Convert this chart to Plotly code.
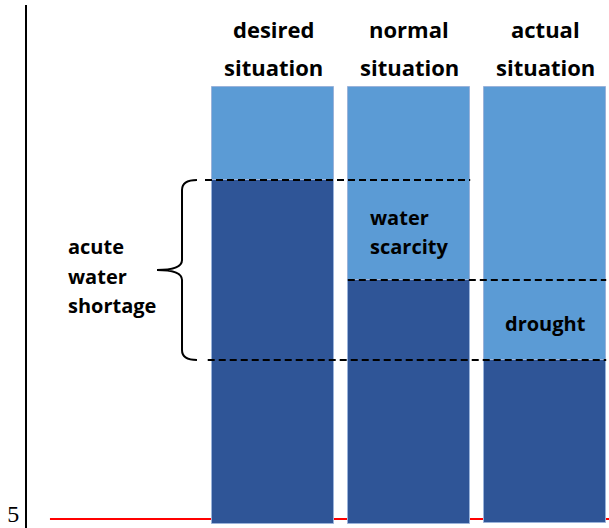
import plotly.graph_objects as go

# ---- data (units: 1 unit = one step of the vertical scale) ----
categories = ["desired situation", "normal situation", "actual situation"]
header_line1 = ["desired", "normal", "actual"]
header_line2 = ["situation", "situation", "situation"]
bar_bottom = [4.0, 4.0, 4.2]
bar_top = [91.4, 91.4, 91.4]
supply_level = [72.8, 52.8, 36.8]      # top of dark (available) part
threshold = 5                          # red reference line
tick_vals = [5]
tick_text = ["5"]
acute_top = 72.8
acute_bottom = 36.8

LIGHT = "#5B9BD5"
DARK = "#2F5597"
EDGE = "#9AB3DA"
FONT = "Open Sans"

x = [0, 1, 2]
W = 0.9

fig = go.Figure()
fig.add_trace(go.Bar(
    x=x, base=bar_bottom,
    y=[s - b for s, b in zip(supply_level, bar_bottom)],
    width=W, marker=dict(color=DARK, line=dict(color=EDGE, width=1)),
    hoverinfo="skip", showlegend=False))
fig.add_trace(go.Bar(
    x=x, base=supply_level,
    y=[t - s for t, s in zip(bar_top, supply_level)],
    width=W, marker=dict(color=LIGHT, line=dict(color=EDGE, width=1)),
    hoverinfo="skip", showlegend=False))

shapes = []
# red reference line (below bars)
shapes.append(dict(type="line", xref="x", yref="y", x0=-1.64, x1=2.48,
                   y0=threshold, y1=threshold, layer="below",
                   line=dict(color="#FF0000", width=2)))
# dashed level lines
dash = dict(color="black", width=2, dash="7px,4px")
shapes.append(dict(type="line", x0=-W/2 - 0.05, x1=1 + W/2,
                   y0=supply_level[0], y1=supply_level[0], line=dash))
shapes.append(dict(type="line", x0=1 - W/2, x1=2 + W/2,
                   y0=supply_level[1], y1=supply_level[1], line=dash))
shapes.append(dict(type="line", x0=-W/2 - 0.03, x1=2 + W/2,
                   y0=supply_level[2], y1=supply_level[2], line=dash))

# curly brace for "acute water shortage"
xe, xv, xt = -0.559, -0.669, -0.853
ym = (acute_top + acute_bottom) / 2
r = 2.0
path = (f"M {xe},{acute_top} Q {xv},{acute_top} {xv},{acute_top - r} "
        f"L {xv},{ym + r} Q {xv},{ym} {xt},{ym} "
        f"Q {xv},{ym} {xv},{ym - r} "
        f"L {xv},{acute_bottom + r} Q {xv},{acute_bottom} {xe},{acute_bottom}")
shapes.append(dict(type="path", path=path, line=dict(color="black", width=2)))

annotations = []
for i in range(3):
    annotations.append(dict(x=x[i], y=103.0, text=f"<b>{header_line1[i]}</b>",
                            showarrow=False, xanchor="center", yanchor="middle",
                            font=dict(family=FONT, size=22, color="black")))
    annotations.append(dict(x=x[i], y=95.5, text=f"<b>{header_line2[i]}</b>",
                            showarrow=False, xanchor="center", yanchor="middle",
                            font=dict(family=FONT, size=22, color="black")))

inner = [("water", 0.70, 65.4), ("scarcity", 0.70, 59.6)]
for t, xx, yy in inner:
    annotations.append(dict(x=xx, y=yy, text=f"<b>{t}</b>", showarrow=False,
                            xanchor="left", yanchor="middle",
                            font=dict(family=FONT, size=20, color="black")))
annotations.append(dict(x=2, y=44.2, text="<b>drought</b>", showarrow=False,
                        xanchor="center", yanchor="middle",
                        font=dict(family=FONT, size=20, color="black")))
for t, yy in [("acute", 59.6), ("water", 53.6), ("shortage", 47.8)]:
    annotations.append(dict(x=-1.522, y=yy, text=f"<b>{t}</b>", showarrow=False,
                            xanchor="left", yanchor="middle",
                            font=dict(family=FONT, size=20, color="black")))

fig.update_layout(
    width=609, height=528,
    margin=dict(l=27, r=0, t=5, b=0, autoexpand=False),
    plot_bgcolor="white", paper_bgcolor="white",
    barmode="overlay", bargap=0,
    shapes=shapes, annotations=annotations,
    xaxis=dict(visible=False, range=[-1.8088, 2.4706], fixedrange=True),
    yaxis=dict(range=[3.2, 107.8], showgrid=False, zeroline=False,
               showline=True, linecolor="black", linewidth=2,
               tickmode="array", tickvals=tick_vals, ticktext=tick_text,
               ticks="", ticklabelstandoff=1, ticklabelshift=-5, automargin=False,
               ticklabeloverflow="allow",
               tickfont=dict(family="Liberation Serif", size=24, color="black"),
               fixedrange=True),
    showlegend=False,
)

fig.write_html("out.html", config={"displayModeBar": False},
               post_script="document.body.style.margin='0';document.body.style.overflow='hidden';")
